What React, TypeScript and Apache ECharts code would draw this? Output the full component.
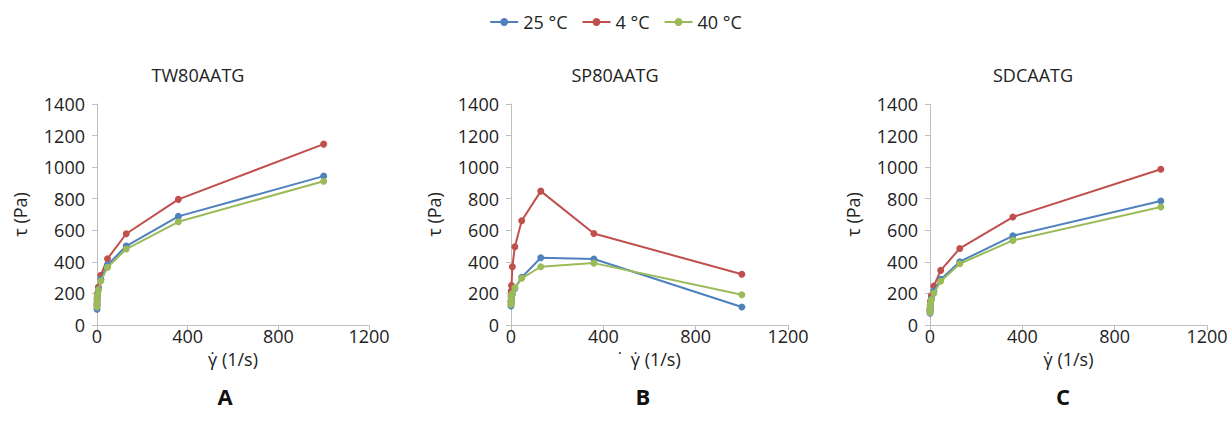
import React, { useEffect, useRef } from "react";
import * as echarts from "echarts";

const shearRate = [0.1, 0.278, 0.774, 2.15, 5.99, 16.7, 46.4, 129, 359, 1000];

const seriesNames = ["25 °C", "4 °C", "40 °C"];
const seriesColors = ["#4F81BD", "#C0504D", "#9BBB59"];

const panelTitles = ["TW80AATG", "SP80AATG", "SDCAATG"];
const panelLetters = ["A", "B", "C"];
const xAxisNames = ["γ̇ (1/s)", "˙  γ̇ (1/s)", "γ̇ (1/s)"];

// TW80AATG
const tw25 = [100, 130, 160, 190, 225, 290, 380, 500, 688, 943];
const tw4 = [120, 145, 170, 200, 240, 315, 420, 578, 796, 1146];
const tw40 = [115, 140, 165, 190, 222, 279, 365, 481, 654, 911];

// SP80AATG
const sp25 = [120, 135, 150, 170, 195, 232, 302, 426, 418, 114];
const sp4 = [150, 180, 215, 250, 369, 496, 660, 848, 580, 321];
const sp40 = [130, 145, 160, 180, 200, 236, 296, 369, 392, 192];

// SDCAATG
const sd25 = [75, 90, 105, 130, 165, 215, 289, 401, 565, 785];
const sd4 = [90, 105, 125, 150, 186, 247, 346, 485, 684, 987];
const sd40 = [80, 95, 115, 135, 160, 201, 277, 388, 536, 747];

const panels = [
  [tw25, tw4, tw40],
  [sp25, sp4, sp40],
  [sd25, sd4, sd40],
];

const gridLefts = [97, 511, 930];
const gridWidths = [272, 277, 277];
const titleCenters = [198, 615, 1033];
const letterCenters = [225, 643, 1063];

export default function App() {
  const ref = useRef<HTMLDivElement>(null);

  useEffect(() => {
    if (!ref.current) return;
    const chart = echarts.init(ref.current, undefined, { renderer: "svg" });
    const font = "'Open Sans', sans-serif";
    const axisColor = "#BFBFBF";
    const fs = 18;

    const grids = gridLefts.map((l, i) => ({
      left: l,
      top: 104,
      width: gridWidths[i],
      height: 221,
    }));

    const xAxes = gridLefts.map((_, i) => ({
      type: "value",
      gridIndex: i,
      min: 0,
      max: 1200,
      interval: 400,
      name: xAxisNames[i],
      nameLocation: "middle",
      nameGap: 20,
      nameTextStyle: { fontFamily: font, fontSize: fs, color: "#222" },
      axisLine: { show: true, lineStyle: { color: axisColor, width: 1 } },
      axisTick: { show: true, length: 5, lineStyle: { color: axisColor } },
      axisLabel: {
        fontFamily: font,
        fontSize: fs,
        color: "#222",
        margin: 2,
        formatter: (v: number) => String(v),
      },
      splitLine: { show: false },
    }));

    const yAxes = gridLefts.map((_, i) => ({
      type: "value",
      gridIndex: i,
      min: 0,
      max: 1400,
      interval: 200,
      name: "τ (Pa)",
      nameLocation: "middle",
      nameGap: 68,
      nameRotate: 90,
      nameTextStyle: { fontFamily: font, fontSize: fs, color: "#222" },
      axisLine: { show: true, lineStyle: { color: axisColor, width: 1 } },
      axisTick: { show: true, length: 5, lineStyle: { color: axisColor } },
      axisLabel: {
        fontFamily: font,
        fontSize: fs,
        color: "#222",
        margin: 12,
        formatter: (v: number) => String(v),
      },
      splitLine: { show: false },
    }));

    const series: any[] = [];
    panels.forEach((panel, pi) => {
      panel.forEach((vals, si) => {
        series.push({
          type: "line",
          name: seriesNames[si],
          xAxisIndex: pi,
          yAxisIndex: pi,
          data: shearRate.map((x, k) => [x, vals[k]]),
          symbol: "circle",
          symbolSize: 7,
          lineStyle: { width: 2, color: seriesColors[si] },
          itemStyle: { color: seriesColors[si] },
          z: si === 1 ? 2 : si === 0 ? 3 : 4,
        });
      });
    });

    const graphics: any[] = [];
    panelTitles.forEach((t, i) => {
      graphics.push({
        type: "text",
        x: titleCenters[i],
        y: 75,
        style: {
          text: t,
          fontFamily: font,
          fontSize: fs,
          fill: "#222",
          textAlign: "center",
          textVerticalAlign: "middle",
        },
      });
      graphics.push({
        type: "text",
        x: letterCenters[i],
        y: 396,
        style: {
          text: panelLetters[i],
          fontFamily: font,
          fontSize: 22,
          fontWeight: "bold",
          fill: "#111",
          textAlign: "center",
          textVerticalAlign: "middle",
        },
      });
    });

    chart.setOption({
      animation: false,
      color: seriesColors,
      legend: {
        data: seriesNames,
        top: 8,
        left: "center",
        itemWidth: 28,
        itemHeight: 10,
        itemGap: 14,
        textStyle: { fontFamily: font, fontSize: fs, color: "#222" },
      },
      grid: grids,
      xAxis: xAxes,
      yAxis: yAxes,
      series,
      graphic: graphics,
    });

    return () => chart.dispose();
  }, []);

  return (
    <div
      ref={ref}
      style={{ position: "fixed", left: 0, top: 0, width: 1231, height: 432, background: "#fff" }}
    />
  );
}
